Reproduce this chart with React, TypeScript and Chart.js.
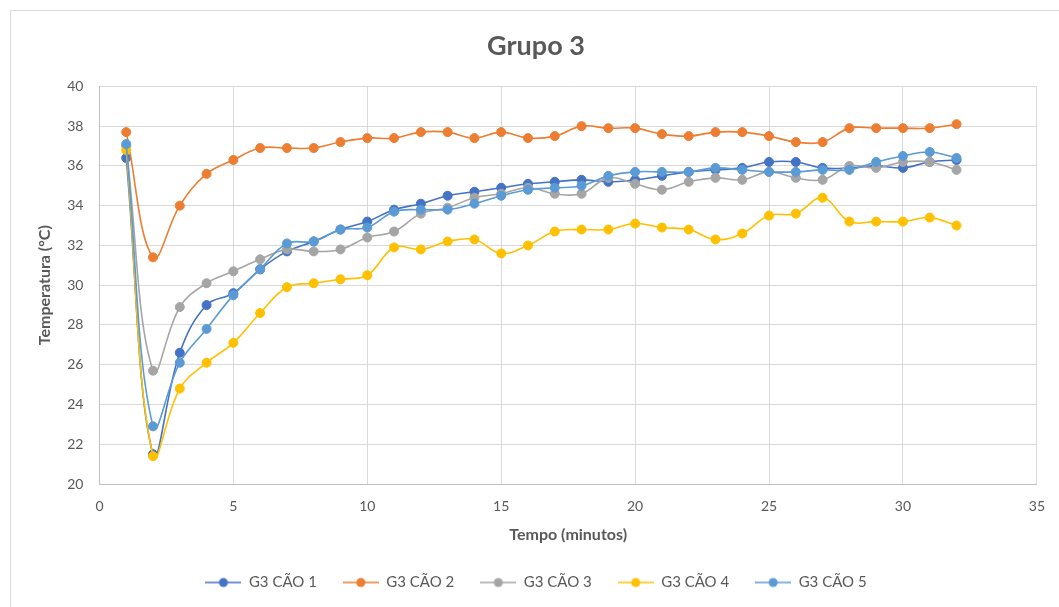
import React, { useEffect, useRef } from "react";
import { Chart, registerables } from "chart.js";

Chart.register(...registerables);

const minutes = [1, 2, 3, 4, 5, 6, 7, 8, 9, 10, 11, 12, 13, 14, 15, 16, 17, 18, 19, 20, 21, 22, 23, 24, 25, 26, 27, 28, 29, 30, 31, 32];

const cao1 = [36.4, 21.5, 26.6, 29.0, 29.6, 30.8, 31.7, 32.2, 32.8, 33.2, 33.8, 34.1, 34.5, 34.7, 34.9, 35.1, 35.2, 35.3, 35.2, 35.3, 35.5, 35.7, 35.8, 35.9, 36.2, 36.2, 35.9, 35.9, 36.0, 35.9, 36.2, 36.3];
const cao2 = [37.7, 31.4, 34.0, 35.6, 36.3, 36.9, 36.9, 36.9, 37.2, 37.4, 37.4, 37.7, 37.7, 37.4, 37.7, 37.4, 37.5, 38.0, 37.9, 37.9, 37.6, 37.5, 37.7, 37.7, 37.5, 37.2, 37.2, 37.9, 37.9, 37.9, 37.9, 38.1];
const cao3 = [37.0, 25.7, 28.9, 30.1, 30.7, 31.3, 31.8, 31.7, 31.8, 32.4, 32.7, 33.6, 33.9, 34.4, 34.6, 34.9, 34.6, 34.6, 35.4, 35.1, 34.8, 35.2, 35.4, 35.3, 35.7, 35.4, 35.3, 36.0, 35.9, 36.2, 36.2, 35.8];
const cao4 = [36.8, 21.4, 24.8, 26.1, 27.1, 28.6, 29.9, 30.1, 30.3, 30.5, 31.9, 31.8, 32.2, 32.3, 31.6, 32.0, 32.7, 32.8, 32.8, 33.1, 32.9, 32.8, 32.3, 32.6, 33.5, 33.6, 34.4, 33.2, 33.2, 33.2, 33.4, 33.0];
const cao5 = [37.1, 22.9, 26.1, 27.8, 29.5, 30.8, 32.1, 32.2, 32.8, 32.9, 33.7, 33.8, 33.8, 34.1, 34.5, 34.8, 34.9, 35.0, 35.5, 35.7, 35.7, 35.7, 35.9, 35.8, 35.7, 35.7, 35.8, 35.8, 36.2, 36.5, 36.7, 36.4];

const seriesNames = ["G3 CÃO 1", "G3 CÃO 2", "G3 CÃO 3", "G3 CÃO 4", "G3 CÃO 5"];
const seriesValues = [cao1, cao2, cao3, cao4, cao5];
const seriesColors = ["#4472C4", "#ED7D31", "#A5A5A5", "#FFC000", "#5B9BD5"];

const chartTitle = "Grupo 3";
const xTitle = "Tempo (minutos)";
const yTitle = "Temperatura (°C)";

const FONT = "Lato, 'Open Sans', sans-serif";
const TEXT = "#595959";

function legendIcon(color: string) {
  const c = document.createElement("canvas");
  c.width = 36;
  c.height = 12;
  const g = c.getContext("2d")!;
  g.strokeStyle = color;
  g.lineWidth = 1.5;
  g.beginPath();
  g.moveTo(0, 6);
  g.lineTo(36, 6);
  g.stroke();
  g.fillStyle = color;
  g.beginPath();
  g.arc(18, 6, 4.5, 0, Math.PI * 2);
  g.fill();
  return c;
}

export default function App() {
  const ref = useRef<HTMLCanvasElement | null>(null);

  useEffect(() => {
    if (!ref.current) return;
    const icons = seriesColors.map(legendIcon);
    const datasets = seriesValues.map((vals, i) => ({
      label: seriesNames[i],
      data: minutes.map((m, j) => ({ x: m, y: vals[j] })),
      borderColor: seriesColors[i],
      backgroundColor: seriesColors[i],
      pointBackgroundColor: seriesColors[i],
      pointBorderColor: seriesColors[i],
      pointRadius: 4.5,
      pointBorderWidth: 1,
      borderWidth: 1.6,
      tension: 0.4,
      order: 4 - i,
    }));
    const chart = new Chart(ref.current, {
      type: "line",
      data: { datasets },
      options: {
        animation: false,
        responsive: false,
        maintainAspectRatio: false,
        layout: { padding: { left: 35, right: 22, top: 30, bottom: 7 } },
        plugins: {
          title: {
            display: true,
            text: chartTitle,
            color: TEXT,
            font: { family: FONT, size: 27, weight: "bold" },
            padding: { top: 0, bottom: 24 },
          },
          legend: {
            position: "bottom",
            labels: {
              usePointStyle: true,
              pointStyleWidth: 36,
              boxHeight: 12,
              padding: 26,
              color: TEXT,
              font: { family: FONT, size: 15 },
              sort: (a: any, b: any) => a.datasetIndex - b.datasetIndex,
              generateLabels: (ch: any) =>
                Chart.defaults.plugins.legend.labels
                  .generateLabels(ch)
                  .map((l: any) => ({ ...l, pointStyle: icons[l.datasetIndex] })),
            },
          },
          tooltip: { enabled: false },
        },
        scales: {
          x: {
            type: "linear",
            min: 0,
            max: 35,
            ticks: { stepSize: 5, color: TEXT, font: { family: FONT, size: 14 }, padding: 14 },
            grid: { color: "#d9d9d9", drawTicks: false },
            border: { color: "#bfbfbf" },
            title: {
              display: true,
              text: xTitle,
              color: TEXT,
              font: { family: FONT, size: 16, weight: "bold" },
              padding: { top: -4, bottom: 5 },
            },
          },
          y: {
            min: 20,
            max: 40,
            ticks: { stepSize: 2, color: TEXT, font: { family: FONT, size: 14 }, padding: 16 },
            grid: { color: "#d9d9d9", drawTicks: false },
            border: { color: "#bfbfbf" },
            title: {
              display: true,
              text: yTitle,
              color: TEXT,
              font: { family: FONT, size: 16, weight: "bold" },
              padding: { top: 0, bottom: -3 },
            },
          },
        },
      },
    });
    return () => chart.destroy();
  }, []);

  return (
    <div style={{ position: "fixed", left: 0, top: 0, width: 1059, height: 607, background: "#fff" }}>
      <div
        style={{
          position: "absolute",
          left: 10,
          top: 10,
          width: 1060,
          height: 600,
          borderTop: "1px solid #dcdcdc",
          borderLeft: "1px solid #dcdcdc",
        }}
      />
      <canvas ref={ref} width={1059} height={607} style={{ position: "absolute", left: 0, top: 0 }} />
    </div>
  );
}
